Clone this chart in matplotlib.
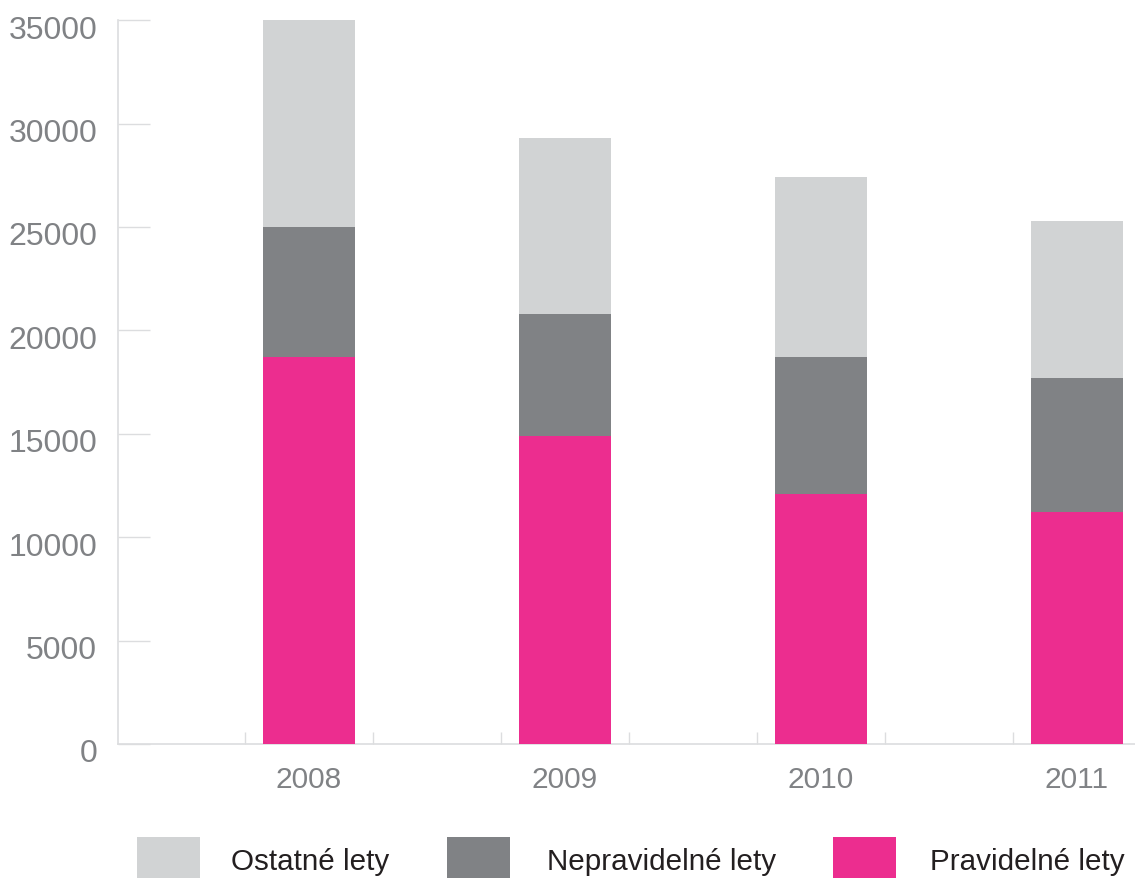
"""
Stacked bar chart of flights per year, split by flight type.
"""

import matplotlib
matplotlib.use("Agg")
import matplotlib.pyplot as plt
import matplotlib.patches as mpatches
import matplotlib.transforms as mtransforms
import numpy as np


# --------------------------------------------------------------------------- #
#  Data
# --------------------------------------------------------------------------- #
years        = ["2008", "2009", "2010", "2011"]
pravidelne   = [18700, 14900, 12100, 11200]   # scheduled flights
nepravidelne = [6300, 5900, 6600, 6500]       # charter flights
ostatne      = [10000, 8500, 8700, 7600]      # other flights

COLORS = {
    "Ostatné lety":      "#d1d3d4",
    "Nepravidelné lety": "#808285",
    "Pravidelné lety":   "#ec2d8f",
}
AXIS_GREY = "#dcdddf"
TEXT_GREY = "#808285"

plt.rcParams["font.family"] = ["Liberation Sans", "DejaVu Sans"]

fig = plt.figure(figsize=(11.35, 8.79), dpi=100)
ax = fig.add_axes([0.104, 0.1525, 0.896, 0.8235])

x = np.arange(len(years))
width = 0.36

ax.bar(x, pravidelne, width, color=COLORS["Pravidelné lety"], zorder=3)
ax.bar(x, nepravidelne, width, bottom=pravidelne,
       color=COLORS["Nepravidelné lety"], zorder=3)
base2 = np.array(pravidelne) + np.array(nepravidelne)
ax.bar(x, ostatne, width, bottom=base2, color=COLORS["Ostatné lety"], zorder=3)

# --- axes styling ---
ax.set_xlim(-0.746, 3.227)
ax.set_ylim(0, 35000)
ax.set_yticks(np.arange(0, 35001, 5000))
ax.set_xticks(x)
ax.set_xticklabels(years)
ax.set_xticks(np.arange(-0.25, 3.0, 0.5), minor=True)

for side in ("top", "right"):
    ax.spines[side].set_visible(False)
for side in ("left", "bottom"):
    ax.spines[side].set_color(AXIS_GREY)
    ax.spines[side].set_linewidth(1.2)

ax.tick_params(axis="y", direction="in", length=23, width=1.0, color=AXIS_GREY,
               labelsize=23, labelcolor=TEXT_GREY, pad=15)
ax.tick_params(axis="x", which="major", length=0, labelsize=21.5,
               labelcolor=TEXT_GREY, pad=15)
ax.tick_params(axis="x", which="minor", direction="in", length=9, width=1.0,
               color=AXIS_GREY)

# y labels sit a little below their tick line
shift = mtransforms.ScaledTranslation(0, -6 / 100, fig.dpi_scale_trans)
for t in ax.yaxis.get_major_ticks():
    t.label1.set_transform(t.label1.get_transform() + shift)

# --- legend along the bottom edge ---
legend_items = [
    ("Ostatné lety",      137, 231),
    ("Nepravidelné lety", 447, 547),
    ("Pravidelné lety",   833, 930),
]
W, H = 1135, 879
for name, sq_x, txt_x in legend_items:
    fig.add_artist(mpatches.Rectangle(
        (sq_x / W, 0), 63 / W, (879 - 838) / H,
        transform=fig.transFigure, color=COLORS[name], linewidth=0))
    fig.text(txt_x / W, 1 - 862 / H, name, fontsize=21.3, color="#231f20",
             ha="left", va="center")

fig.savefig("out.png", dpi=100)
plt.close(fig)
